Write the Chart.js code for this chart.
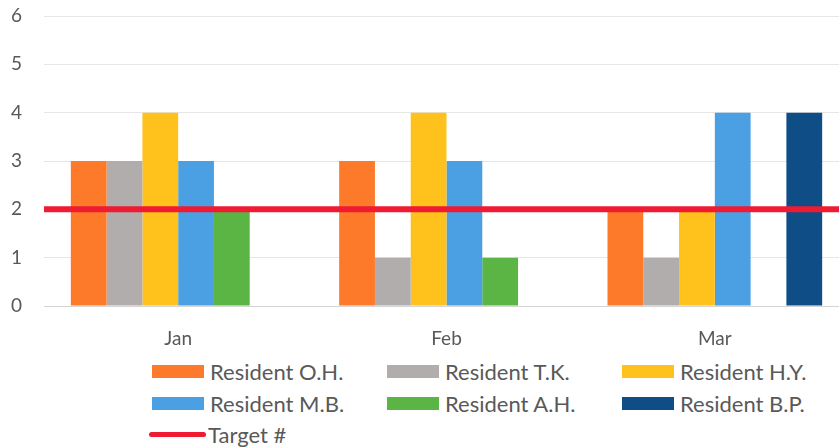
<!DOCTYPE html>
<html>
<head>
<meta charset="utf-8">
<script src="https://cdn.jsdelivr.net/npm/chart.js@4.4.1/dist/chart.umd.min.js"></script>
<style>
  html, body { margin: 0; padding: 0; background: #fff; overflow: hidden; width: 839px; height: 448px; }
  #wrap { position: absolute; left: 0; top: 0; width: 860px; height: 350px; }
  #legend {
    position: absolute; left: 152px; top: 356px;
    display: grid; grid-template-columns: 235px 235px 235px; grid-auto-rows: 31.5px;
    font-family: Lato, "Open Sans", sans-serif; font-size: 22px; color: #595959;
  }
  .item { display: flex; align-items: center; white-space: nowrap; }
  .box { width: 52px; height: 13px; margin-right: 6px; flex: none; }
  .line { width: 57px; height: 5px; border-radius: 3px; margin-left: -3px; margin-right: 2px; flex: none; }
</style>
</head>
<body>
<div id="wrap"><canvas id="c" width="860" height="350"></canvas></div>
<div id="legend"></div>
<script>
// Months on the category axis
const months = ['Jan', 'Feb', 'Mar'];

// Count per resident per month
const residentOH = [3, 3, 2];
const residentTK = [3, 1, 1];
const residentHY = [4, 4, 2];
const residentMB = [3, 3, 4];
const residentAH = [2, 1, 0];
const residentBP = [0, 0, 4];

// Target count per month
const target = [2, 2, 2];

// Value axis ticks
const yTicks = [0, 1, 2, 3, 4, 5, 6];

const FONT = 'Lato, "Open Sans", sans-serif';
const TEXT = '#595959';

const bar = (label, data, color) => ({
  type: 'bar', label, data, backgroundColor: color, borderWidth: 0,
  categoryPercentage: 0.8, barPercentage: 1.0, order: 1
});

// Keep axis label overhang from shrinking the plot area
const noPad = s => { s.paddingTop = 0; s.paddingBottom = 0; s.paddingLeft = 0; s.paddingRight = 0; };

// Stretch the target line's end points out to the edges of the plot area
const spanTarget = {
  id: 'spanTarget',
  afterDatasetUpdate(chart, args) {
    const ds = chart.data.datasets[args.index];
    if (ds.type !== 'line') return;
    const pts = args.meta.data;
    if (!pts.length) return;
    pts[0].x = chart.chartArea.left;
    pts[pts.length - 1].x = chart.chartArea.right;
  }
};

const chart = new Chart(document.getElementById('c'), {
  type: 'bar',
  data: {
    labels: months,
    datasets: [
      bar('Resident O.H.', residentOH, '#fd7a2b'),
      bar('Resident T.K.', residentTK, '#b2adad'),
      bar('Resident H.Y.', residentHY, '#ffc21c'),
      bar('Resident M.B.', residentMB, '#4aa0e2'),
      bar('Resident A.H.', residentAH, '#5bb544'),
      bar('Resident B.P.', residentBP, '#0f4d87'),
      {
        type: 'line', label: 'Target #', data: target,
        borderColor: '#ee1b32', borderWidth: 6, pointRadius: 0,
        borderCapStyle: 'butt', fill: false, tension: 0, order: 0
      }
    ]
  },
  options: {
    responsive: false,
    animation: false,
    layout: { padding: { top: 16, right: 11, left: 0, bottom: 0 } },
    plugins: { legend: { display: false }, tooltip: { enabled: false } },
    scales: {
      x: {
        type: 'category',
        offset: true,
        grid: { display: false, offset: true },
        border: { display: false },
        ticks: { color: TEXT, font: { family: FONT, size: 19 }, padding: 13, maxRotation: 0 },
        afterFit: s => { s.height = 44; noPad(s); }
      },
      y: {
        min: yTicks[0], max: yTicks[yTicks.length - 1],
        afterBuildTicks: s => { s.ticks = yTicks.map(v => ({ value: v })); },
        grid: {
          drawTicks: false,
          color: ctx => ctx.tick && ctx.tick.value === 0 ? '#d4d4d4' : '#e6e6e6',
          lineWidth: 1
        },
        border: { display: false },
        ticks: { color: TEXT, font: { family: FONT, size: 19 }, padding: 22 },
        afterFit: s => { s.width = 44; noPad(s); }
      }
    }
  },
  plugins: [spanTarget]
});

// Legend in a three-column grid, built from the chart's datasets
const legend = document.getElementById('legend');
chart.data.datasets.forEach(ds => {
  const item = document.createElement('div');
  item.className = 'item';
  const sw = document.createElement('span');
  if (ds.type === 'line') {
    sw.className = 'line';
    sw.style.background = ds.borderColor;
  } else {
    sw.className = 'box';
    sw.style.background = ds.backgroundColor;
  }
  const tx = document.createElement('span');
  tx.textContent = ds.label;
  item.appendChild(sw);
  item.appendChild(tx);
  legend.appendChild(item);
});
</script>
</body>
</html>
